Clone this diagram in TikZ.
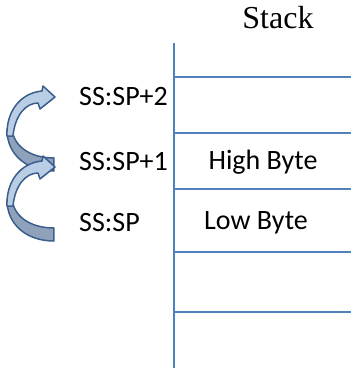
\documentclass[tikz,border=0pt]{standalone}
\usepackage{fontspec}
\setmainfont{Liberation Serif}
\newfontfamily\labelfont{Carlito}
\definecolor{gridblue}{HTML}{4F81BD}
\definecolor{arrowline}{HTML}{3B5F8C}
\definecolor{arrowfront}{HTML}{B9CDE5}
\definecolor{arrowback}{HTML}{8FA2BC}
\tikzset{
  gridline/.style={draw=gridblue, line width=1.8pt},
  addr/.style={font=\labelfont\fontsize{28}{30}\selectfont, anchor=west, inner sep=0pt},
  cell/.style={font=\labelfont\fontsize{28}{30}\selectfont, inner sep=0pt},
  heading/.style={font=\fontsize{32}{34}\selectfont, inner sep=0pt},
  arrowpart/.style={draw=arrowline, line width=1.5pt, line join=round},
  % local origin: leftmost point of the bend, y pointing down
  bendarrow/.pic={
    % back face of the curved band, seen near the tail
    \path[arrowpart, fill=arrowback]
      (54,28) -- (54,41) .. controls (26,41) and (7,24) .. (7,0)
      -- (12,-2) .. controls (13,16) and (30,28) .. (54,28) -- cycle;
    % front face of the band with the arrow head
    \path[arrowpart, fill=arrowfront]
      (7,6) .. controls (6,-18) and (20,-37) .. (42,-39)
      -- (43,-44) -- (55,-33) -- (40,-21) -- (38,-27)
      .. controls (26,-27) and (15,-15) .. (13,6) -- cycle;
  }
}
\begin{document}
\begin{tikzpicture}[x=1pt, y=-1pt]
  \useasboundingbox (0,0) rectangle (351,368);

  % stack column
  \coordinate (top) at (174,43);
  \coordinate (bottom) at (174,368);
  \draw[gridline] (top) -- (bottom);
  \foreach \y/\n in {77/a,133/b,189/c,252/d,312/e} {
    \coordinate (l\n) at (174,\y);
    \coordinate (r\n) at (351,\y);
    \draw[gridline] (l\n) -- (r\n);
  }

  \node[heading] (stack) at (278,18) {Stack};
  \node[cell] (high) at (263,162) {High Byte};
  \node[cell] (low) at (256,223) {Low Byte};

  % addresses
  \node[addr] (sp2) at (79,97) {SS:SP+2};
  \node[addr] (sp1) at (79,162) {SS:SP+1};
  \node[addr] (sp0) at (79,223) {SS:SP};

  % curved arrows, lower one drawn last so its head sits in front
  \pic at (0,130) {bendarrow};
  \pic at (0,200) {bendarrow};
\end{tikzpicture}
\end{document}
